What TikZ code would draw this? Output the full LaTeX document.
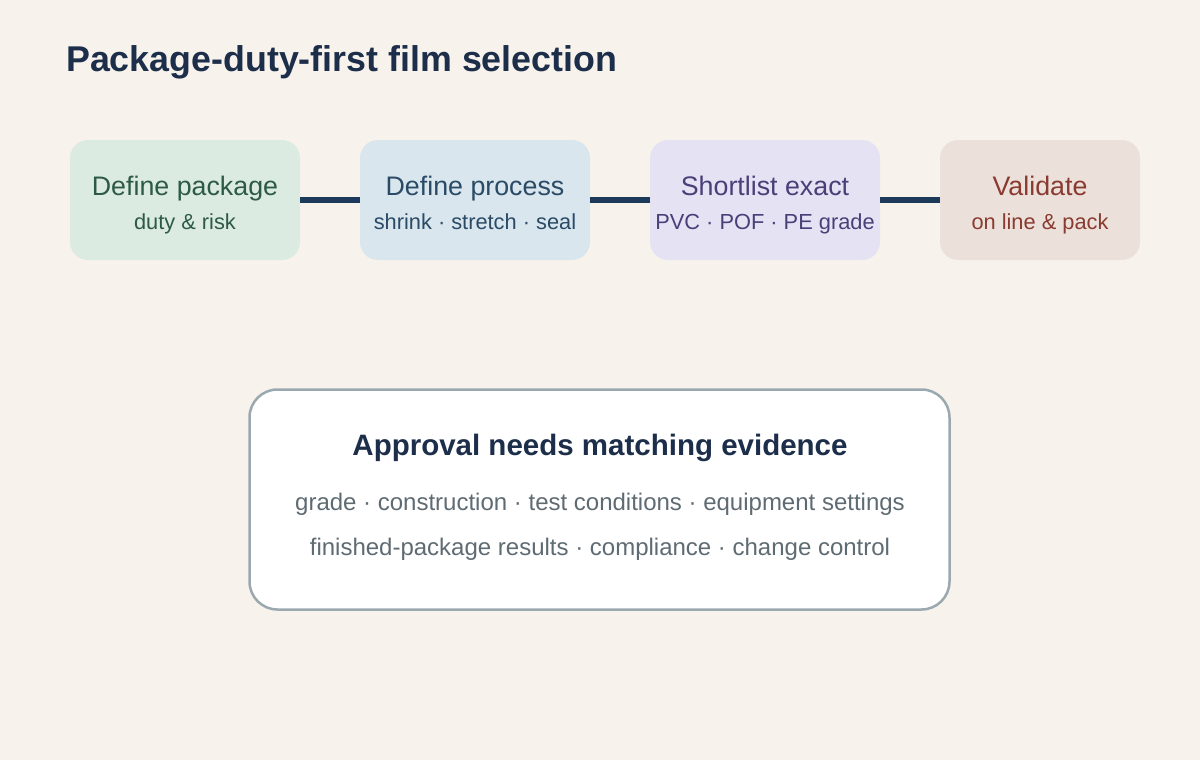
\documentclass[tikz,border=0pt]{standalone}
\usepackage{fontspec}
\setmainfont{Liberation Sans}
\definecolor{bg}{HTML}{F7F3EC}
\definecolor{navy}{HTML}{1C2E4A}
\definecolor{lnk}{HTML}{1E3A5A}
\definecolor{fA}{HTML}{DCEBE2}\definecolor{tA}{HTML}{2D5A45}
\definecolor{fB}{HTML}{D9E6EE}\definecolor{tB}{HTML}{2A4A66}
\definecolor{fC}{HTML}{E5E2F3}\definecolor{tC}{HTML}{4A3F78}
\definecolor{fD}{HTML}{EBE1DA}\definecolor{tD}{HTML}{8A3A30}
\definecolor{bodyg}{HTML}{5F6B73}
\definecolor{edgeg}{HTML}{9AA8B0}
\tikzset{
  stepbox/.style={rounded corners=18pt, minimum width=230pt, minimum height=120pt, inner sep=0pt},
  ttl/.style={anchor=base, inner sep=0pt, font=\fontsize{26.8}{31}\selectfont},
  sub/.style={anchor=base, inner sep=0pt, font=\fontsize{21.8}{25}\selectfont},
  body/.style={anchor=base, inner sep=0pt, text=bodyg, font=\fontsize{24}{28}\selectfont},
  link/.style={line width=6pt, draw=lnk},
}
\begin{document}
\begin{tikzpicture}[x=1pt,y=-1pt]
\fill[bg] (0,0) rectangle (1200,760);
\useasboundingbox (0,0) rectangle (1200,760);
\node[anchor=base west, inner sep=0pt, text=navy, font=\bfseries\fontsize{35.8}{42}\selectfont] (title) at (66,71) {Package-duty-first film selection};
% boxes
\node[stepbox, fill=fA] (b1) at (185,200) {};
\node[stepbox, fill=fB] (b2) at (475,200) {};
\node[stepbox, fill=fC] (b3) at (765,200) {};
\node[stepbox, fill=fD, minimum width=200pt] (b4) at (1040,200) {};
\draw[link] (b1.east) -- (b2.west);
\draw[link] (b2.east) -- (b3.west);
\draw[link] (b3.east) -- (b4.west);
\node[ttl, text=tA] (t1) at (185,195) {Define package};
\node[sub, text=tA] (s1) at (185,229) {duty \& risk};
\node[ttl, text=tB] (t2) at (475,195) {Define process};
\node[sub, text=tB] (s2) at (475,229) {shrink · stretch · seal};
\node[ttl, text=tC] (t3) at (765,195) {Shortlist exact};
\node[sub, text=tC] (s3) at (765,229) {PVC · POF · PE grade};
\node[ttl, text=tD] (t4) at (1040,195) {Validate};
\node[sub, text=tD] (s4) at (1040,229) {on line \& pack};
% evidence box
\node[draw=edgeg, line width=2.5pt, fill=white, rounded corners=28pt, minimum width=700pt, minimum height=220pt] (ev) at (599.5,499.5) {};
\node[anchor=base, inner sep=0pt, text=navy, font=\bfseries\fontsize{29.5}{34}\selectfont] (evt) at (600,455) {Approval needs matching evidence};
\node[body] (ev1) at (600,510) {grade · construction · test conditions · equipment settings};
\node[body] (ev2) at (600,555) {finished-package results · compliance · change control};
\end{tikzpicture}
\end{document}
